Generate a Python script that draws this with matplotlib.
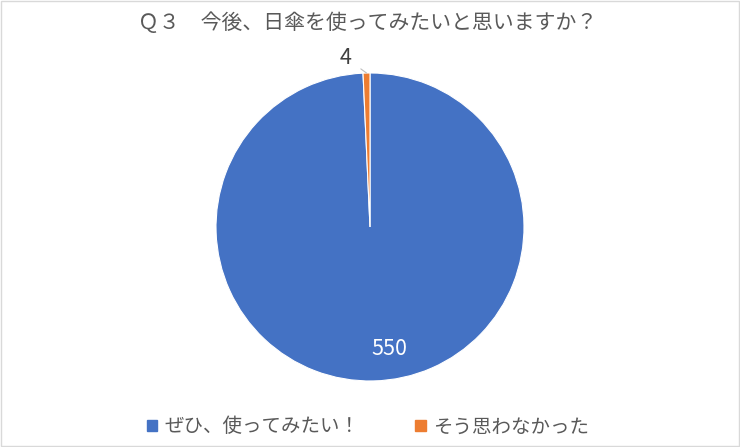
import numpy as np
import matplotlib
matplotlib.use('Agg')
from matplotlib import pyplot as plt
from matplotlib.patches import Rectangle

plt.rcParams['font.family'] = ['Noto Sans CJK JP', 'DejaVu Sans']

title = 'Ｑ３　今後、日傘を使ってみたいと思いますか？'
labels = ['ぜひ、使ってみたい！', 'そう思わなかった']
values = [550, 4]
colors = ['#4472C4', '#ED7D31']

fig = plt.figure(figsize=(7.4, 4.47), dpi=100, facecolor='white')

# chart border like excel
fig.patches.append(Rectangle((0.001, 0.003), 0.997, 0.994, transform=fig.transFigure,
                             fill=False, edgecolor='#D9D9D9', linewidth=1))

ax = fig.add_axes([0.2919, 0.1477, 0.4162, 0.689])
wedges, _ = ax.pie(values, colors=colors, startangle=90, counterclock=False,
                   wedgeprops=dict(edgecolor='white', linewidth=0.8))
ax.set_xlim(-1, 1)
ax.set_ylim(-1, 1)
ax.set_aspect('equal')
ax.axis('off')

# data labels
w = wedges[0]
ang = np.deg2rad((w.theta1 + w.theta2) / 2)
ax.text(0.79 * np.cos(ang) + 0.11, 0.79 * np.sin(ang), str(values[0]),
        color='white', fontsize=15.5, ha='center', va='center')

w = wedges[1]
ang = np.deg2rad((w.theta1 + w.theta2) / 2)
ax.annotate(str(values[1]), xy=(np.cos(ang), np.sin(ang)),
            xytext=(-0.16, 1.1), textcoords='data',
            color='#404040', fontsize=15.5, ha='center', va='center',
            arrowprops=dict(arrowstyle='-', color='#BFBFBF', linewidth=0.8,
                            shrinkA=6, shrinkB=0),
            annotation_clip=False)

fig.text(0.497, 0.948, title, ha='center', va='center', fontsize=15, color='#595959')

handles = [Rectangle((0, 0), 1, 1, color=c) for c in colors]
fig.legend(handles, labels, loc='center', bbox_to_anchor=(0.497, 0.045), ncol=2,
           frameon=False, fontsize=14, labelcolor='#595959',
           handlelength=0.55, handleheight=0.55, handletextpad=0.35, columnspacing=2.9)

fig.savefig('out.png', dpi=100, facecolor='white')
